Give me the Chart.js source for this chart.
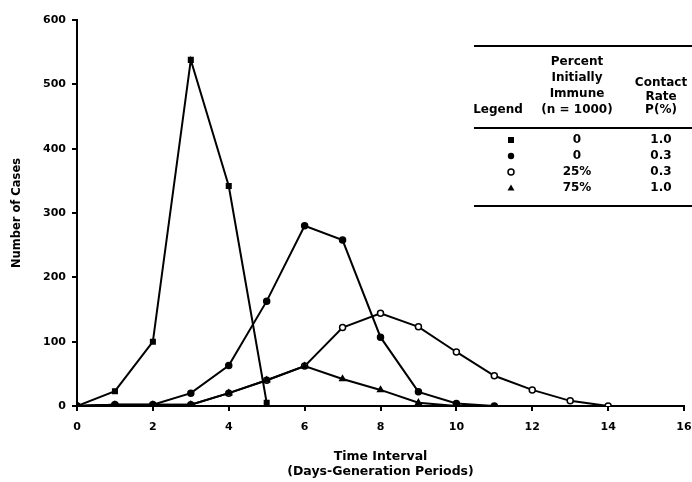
<!DOCTYPE html>
<html><head><meta charset="utf-8">
<script src="https://cdn.jsdelivr.net/npm/chart.js@4/dist/chart.umd.min.js"></script>
<style>html,body{margin:0;padding:0;background:#fff}#wrap{position:relative;width:692px;height:482px}</style>
</head><body><div id="wrap"><canvas id="c" width="692" height="482"></canvas></div>
<script>
// Data
const xA = [0, 1, 2, 3, 4, 5];
const casesA = [0, 23, 100, 538, 342, 5];            // 0 immune, contact 1.0 (squares)
const xB = [0, 1, 2, 3, 4, 5, 6, 7, 8, 9, 10, 11];
const casesB = [0, 2, 2, 20, 63, 163, 280, 258, 107, 22, 4, 0]; // 0 immune, contact 0.3 (filled circles)
const xC = [0, 1, 2, 3, 4, 5, 6, 7, 8, 9, 10, 11, 12, 13, 14];
const casesC = [0, 2, 2, 2, 20, 40, 62, 122, 144, 123, 84, 47, 25, 8, 0]; // 25% immune, 0.3 (open circles)
const xD = [0, 1, 2, 3, 4, 5, 6, 7, 8, 9, 10];
const casesD = [0, 2, 2, 2, 20, 40, 62, 42, 25, 5, 0]; // 75% immune, 1.0 (triangles)

const yTicks = [0, 100, 200, 300, 400, 500, 600];
const xTicks = [0, 2, 4, 6, 8, 10, 12, 14, 16];

const legendHeader = {
  col1: ['Legend'],
  col2: ['Percent', 'Initially', 'Immune', '(n = 1000)'],
  col3: ['Contact', 'Rate', 'P(%)']
};
const legendImmune = ['0', '0', '25%', '75%'];
const legendRate = ['1.0', '0.3', '0.3', '1.0'];
const legendMarkers = ['rect', 'circle', 'circleOpen', 'triangle'];

function pts(xs, ys) { return xs.map((x, i) => ({x: x, y: ys[i]})); }

const FONT = '"DejaVu Sans", sans-serif';

const overlay = {
  id: 'overlay',
  afterDraw(chart) {
    const ctx = chart.ctx;
    ctx.save();
    ctx.fillStyle = '#000';
    ctx.strokeStyle = '#000';
    // axis titles
    ctx.font = 'bold 12.5px ' + FONT;
    ctx.textAlign = 'center';
    ctx.textBaseline = 'middle';
    const ca = chart.chartArea;
    const cx = (ca.left + ca.right) / 2;
    ctx.fillText('Time Interval', cx, 457);
    ctx.fillText('(Days-Generation Periods)', cx, 472);
    ctx.save();
    ctx.translate(17, (ca.top + ca.bottom) / 2);
    ctx.rotate(-Math.PI / 2);
    ctx.font = 'bold 11.5px ' + FONT;
    ctx.fillText('Number of Cases', 0, 0);
    ctx.restore();

    // legend table
    ctx.lineWidth = 2;
    [[46], [128], [206]].forEach(([y]) => {
      ctx.beginPath(); ctx.moveTo(474, y); ctx.lineTo(692, y); ctx.stroke();
    });
    ctx.font = 'bold 12px ' + FONT;
    ctx.fillText(legendHeader.col1[0], 498, 110);
    const c2y = [62, 78, 94, 110];
    legendHeader.col2.forEach((t, i) => ctx.fillText(t, 577, c2y[i]));
    const c3y = [83, 96.5, 110];
    legendHeader.col3.forEach((t, i) => ctx.fillText(t, 661, c3y[i]));
    const rowY = [140, 156, 172, 188];
    rowY.forEach((y, i) => {
      ctx.fillText(legendImmune[i], 577, y);
      ctx.fillText(legendRate[i], 661, y);
      const m = legendMarkers[i];
      const mx = 511;
      ctx.beginPath();
      if (m === 'rect') { ctx.fillRect(mx - 3, y - 3, 6, 6); }
      else if (m === 'circle') { ctx.arc(mx, y, 3.2, 0, Math.PI * 2); ctx.fill(); }
      else if (m === 'circleOpen') { ctx.lineWidth = 1.5; ctx.arc(mx, y, 3, 0, Math.PI * 2); ctx.fillStyle = '#fff'; ctx.fill(); ctx.stroke(); ctx.fillStyle = '#000'; }
      else { ctx.moveTo(mx, y - 3.5); ctx.lineTo(mx + 3.5, y + 2.5); ctx.lineTo(mx - 3.5, y + 2.5); ctx.closePath(); ctx.fill(); }
    });
    ctx.restore();
  }
};

const common = { borderColor: '#000', borderWidth: 2, tension: 0, pointBorderColor: '#000', pointBorderWidth: 1.5, showLine: true };

new Chart(document.getElementById('c'), {
  type: 'scatter',
  data: {
    datasets: [
      Object.assign({}, common, { label: 'A', data: pts(xA, casesA), pointStyle: 'rect', pointRadius: 3.2, pointBackgroundColor: '#000' }),
      Object.assign({}, common, { label: 'B', data: pts(xB, casesB), pointStyle: 'circle', pointRadius: 3, pointBackgroundColor: '#000' }),
      Object.assign({}, common, { label: 'D', data: pts(xD, casesD), pointStyle: 'triangle', pointRadius: 3.2, pointBackgroundColor: '#000' }),
      Object.assign({}, common, { label: 'C', data: pts(xC, casesC), pointStyle: 'circle', pointRadius: 3, pointBackgroundColor: '#fff' })
    ]
  },
  options: {
    responsive: false,
    animation: false,
    layout: { padding: { left: 0, top: 20, right: 8, bottom: 0 } },
    plugins: { legend: { display: false }, tooltip: { enabled: false }, title: { display: false } },
    scales: {
      x: {
        type: 'linear', min: 0, max: 16,
        afterFit(s) { s.height = 76; s.paddingLeft = 0; s.paddingRight = 0; },
        afterBuildTicks(s) { s.ticks = xTicks.map(v => ({value: v})); },
        grid: { drawOnChartArea: false, color: '#000', tickLength: 5, lineWidth: 2 },
        border: { display: true, color: '#000', width: 2 },
        ticks: { color: '#000', padding: 10, font: { family: FONT, weight: 'bold', size: 11 } }
      },
      y: {
        min: 0, max: 600,
        afterFit(s) { s.width = 77; s.paddingTop = 0; s.paddingBottom = 0; },
        afterBuildTicks(s) { s.ticks = yTicks.map(v => ({value: v})); },
        grid: { drawOnChartArea: false, color: '#000', tickLength: 5, lineWidth: 2 },
        border: { display: true, color: '#000', width: 2 },
        ticks: { color: '#000', padding: 6, font: { family: FONT, weight: 'bold', size: 11 } }
      }
    }
  },
  plugins: [overlay]
});
</script>
</body></html>
